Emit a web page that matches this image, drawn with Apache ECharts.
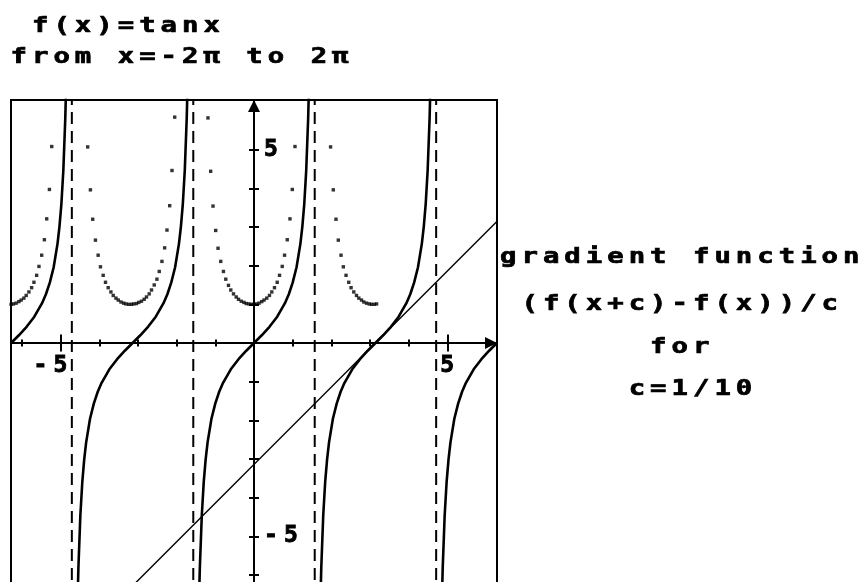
<!DOCTYPE html>
<html>
<head>
<meta charset="utf-8">
<script src="https://cdn.jsdelivr.net/npm/echarts@6/dist/echarts.min.js"></script>
<style>
  html, body { margin: 0; padding: 0; background: #ffffff; }
  #chart { width: 864px; height: 582px; }
</style>
</head>
<body>
<div id="chart"></div>
<script>
// ---- f(x) = tan x, one array per branch between asymptotes ----
const tanBranch1 = [[-6.28, 0], [-6.08, 0.20], [-5.88, 0.42], [-5.68, 0.68], [-5.48, 1.03], [-5.38, 1.26],
  [-5.28, 1.56], [-5.18, 1.96], [-5.08, 2.57], [-5.03, 3.01], [-4.98, 3.60], [-4.93, 4.46], [-4.88, 5.80], [-4.86, 6.58]];
const tanBranch2 = [[-4.56, -6.58], [-4.54, -5.80], [-4.49, -4.46], [-4.44, -3.60], [-4.39, -3.01], [-4.34, -2.57],
  [-4.24, -1.96], [-4.14, -1.56], [-4.04, -1.26], [-3.94, -1.03], [-3.74, -0.68], [-3.54, -0.42], [-3.34, -0.20],
  [-3.14, 0], [-2.94, 0.20], [-2.74, 0.42], [-2.54, 0.68], [-2.34, 1.03], [-2.24, 1.26], [-2.14, 1.56],
  [-2.04, 1.96], [-1.94, 2.57], [-1.89, 3.01], [-1.84, 3.60], [-1.79, 4.46], [-1.74, 5.80], [-1.72, 6.58]];
const tanBranch3 = [[-1.42, -6.58], [-1.40, -5.80], [-1.35, -4.46], [-1.30, -3.60], [-1.25, -3.01], [-1.20, -2.57],
  [-1.10, -1.96], [-1.00, -1.56], [-0.90, -1.26], [-0.80, -1.03], [-0.60, -0.68], [-0.40, -0.42], [-0.20, -0.20],
  [0, 0], [0.20, 0.20], [0.40, 0.42], [0.60, 0.68], [0.80, 1.03], [0.90, 1.26], [1.00, 1.56],
  [1.10, 1.96], [1.20, 2.57], [1.25, 3.01], [1.30, 3.60], [1.35, 4.46], [1.40, 5.80], [1.42, 6.58]];
const tanBranch4 = [[1.72, -6.58], [1.74, -5.80], [1.79, -4.46], [1.84, -3.60], [1.89, -3.01], [1.94, -2.57],
  [2.04, -1.96], [2.14, -1.56], [2.24, -1.26], [2.34, -1.03], [2.54, -0.68], [2.74, -0.42], [2.94, -0.20],
  [3.14, 0], [3.34, 0.20], [3.54, 0.42], [3.74, 0.68], [3.94, 1.03], [4.04, 1.26], [4.14, 1.56],
  [4.24, 1.96], [4.34, 2.57], [4.39, 3.01], [4.44, 3.60], [4.49, 4.46], [4.54, 5.80], [4.56, 6.58]];
const tanBranch5 = [[4.86, -6.58], [4.88, -5.80], [4.93, -4.46], [4.98, -3.60], [5.03, -3.01], [5.08, -2.57],
  [5.18, -1.96], [5.28, -1.56], [5.38, -1.26], [5.48, -1.03], [5.68, -0.68], [5.88, -0.42], [6.08, -0.20], [6.28, 0]];

// ---- gradient (f(x+c)-f(x))/c, c = 1/10, plotted point by point ----
const gradDots1 = [[-6.28, 1.00], [-6.22, 1.01], [-6.15, 1.03], [-6.08, 1.07], [-6.02, 1.11], [-5.95, 1.16],
  [-5.89, 1.23], [-5.82, 1.32], [-5.75, 1.43], [-5.69, 1.57], [-5.62, 1.75], [-5.56, 1.98], [-5.49, 2.27],
  [-5.42, 2.67], [-5.36, 3.21], [-5.29, 3.97], [-5.23, 5.08]];
const gradDots2 = [[-4.30, 5.07], [-4.23, 3.96], [-4.17, 3.20], [-4.10, 2.66], [-4.03, 2.27], [-3.97, 1.97],
  [-3.90, 1.75], [-3.84, 1.57], [-3.77, 1.43], [-3.70, 1.32], [-3.64, 1.23], [-3.57, 1.16], [-3.51, 1.11],
  [-3.44, 1.06], [-3.37, 1.03], [-3.31, 1.01], [-3.24, 1.00], [-3.17, 1.00], [-3.11, 1.01], [-3.04, 1.02],
  [-2.98, 1.05], [-2.91, 1.08], [-2.84, 1.13], [-2.78, 1.19], [-2.71, 1.27], [-2.65, 1.37], [-2.58, 1.50],
  [-2.51, 1.65], [-2.45, 1.85], [-2.38, 2.11], [-2.31, 2.46], [-2.25, 2.92], [-2.18, 3.55], [-2.12, 4.46], [-2.05, 5.84]];
const gradDots3 = [[-1.19, 5.82], [-1.12, 4.44], [-1.06, 3.54], [-0.99, 2.91], [-0.93, 2.45], [-0.86, 2.11],
  [-0.79, 1.85], [-0.73, 1.65], [-0.66, 1.49], [-0.60, 1.37], [-0.53, 1.27], [-0.46, 1.19], [-0.40, 1.13],
  [-0.33, 1.08], [-0.26, 1.05], [-0.20, 1.02], [-0.13, 1.01], [-0.07, 1.00], [0, 1.00], [0.07, 1.01],
  [0.13, 1.03], [0.20, 1.07], [0.26, 1.11], [0.33, 1.16], [0.40, 1.23], [0.46, 1.32], [0.53, 1.43],
  [0.60, 1.57], [0.66, 1.75], [0.73, 1.98], [0.79, 2.27], [0.86, 2.67], [0.93, 3.21], [0.99, 3.97], [1.06, 5.08]];
const gradDots4 = [[1.98, 5.07], [2.05, 3.96], [2.12, 3.20], [2.18, 2.66], [2.25, 2.27], [2.31, 1.97],
  [2.38, 1.75], [2.45, 1.57], [2.51, 1.43], [2.58, 1.32], [2.65, 1.23], [2.71, 1.16], [2.78, 1.11],
  [2.84, 1.06], [2.91, 1.03], [2.98, 1.01], [3.04, 1.00], [3.11, 1.00], [3.17, 1.01]];

// ---- straight line and vertical asymptotes ----
const straightLine = [[-3.14, -6.28], [6.28, 3.14]];
const asymptotes = [-4.71, -1.57, 1.57, 4.71];

// ---- axes ----
const X_MIN = -2 * Math.PI, X_MAX = 2 * Math.PI;
const Y_MIN = -2 * Math.PI, Y_MAX = 2 * Math.PI;
const minorTicksX = [-6, -4, -3, -2, -1, 1, 2, 3, 4, 6];
const majorTicksX = [-5, 5];
const ticksY = [-6, -5, -4, -3, -2, -1, 1, 2, 3, 4, 5, 6];
const tickLabels = [-5, 5];

// ---- text ----
const titleLines = ['f(x)=tanx', 'from x=-2π to 2π'];
const noteLines = ['gradient function', '(f(x+c)-f(x))/c', 'for', 'c=1/10'];

// Calculator-style lettering: every character sits in a wide fixed cell.
// Spacing depends on the font size in use (21px = scaled note text, 23px = axis labels).
const LETTER_SPACING_BY_SIZE = { '21px': '3.85px', '23px': '6.2px' };
function withLetterSpacing(nativeFn) {
  return function (text, x, y, maxWidth) {
    const m = /(\d+(?:\.\d+)?px)/.exec(this.font || '');
    this.letterSpacing = (m && LETTER_SPACING_BY_SIZE[m[1]]) || '0px';
    return maxWidth === undefined
      ? nativeFn.call(this, text, x, y)
      : nativeFn.call(this, text, x, y, maxWidth);
  };
}
CanvasRenderingContext2D.prototype.fillText = withLetterSpacing(CanvasRenderingContext2D.prototype.fillText);
CanvasRenderingContext2D.prototype.strokeText = withLetterSpacing(CanvasRenderingContext2D.prototype.strokeText);

const INK = '#000000';
const FONT_FAMILY = '"DejaVu Sans Mono", monospace';
const NOTE_FONT = 'bold 21px ' + FONT_FAMILY;
const NOTE_SCALE_X = 1.3;
const PITCH = 21.44;

const GRID = { left: 11, top: 100, width: 486, height: 486 };

function textLine(str, col, baseX, y) {
  return {
    type: 'text', x: baseX + col * PITCH, y: y, scaleX: NOTE_SCALE_X, scaleY: 1, silent: true,
    style: { text: str, font: NOTE_FONT, fill: INK, stroke: INK, lineWidth: 0.7,
      align: 'left', verticalAlign: 'middle' }
  };
}

const labelStyle = {
  color: INK, fontFamily: FONT_FAMILY, fontSize: 23, fontWeight: 'bold',
  textBorderColor: INK, textBorderWidth: 0.9
};

// Axis line + ticks, sitting on the zero of the other axis.
function xAxisDef(position, showLine, ticks, tickLen) {
  return {
    type: 'value', min: X_MIN, max: X_MAX, position: position,
    axisLine: {
      show: showLine, onZero: true, onZeroAxisIndex: 0,
      lineStyle: { color: INK, width: 2 },
      symbol: ['none', 'triangle'], symbolSize: [12, 12], symbolOffset: [0, -6]
    },
    axisTick: { show: true, inside: false, customValues: ticks, length: tickLen,
      lineStyle: { color: INK, width: 2 } },
    axisLabel: { show: false },
    splitLine: { show: false }
  };
}

function yAxisDef(position, showLine) {
  return {
    type: 'value', min: Y_MIN, max: Y_MAX, position: position,
    axisLine: {
      show: showLine, onZero: true, onZeroAxisIndex: 0,
      lineStyle: { color: INK, width: 2 },
      symbol: ['none', 'triangle'], symbolSize: [12, 12], symbolOffset: [0, -6]
    },
    axisTick: { show: true, inside: false, customValues: ticksY, length: 5,
      lineStyle: { color: INK, width: 2 } },
    axisLabel: { show: false },
    splitLine: { show: false }
  };
}

// Label-only axes, moved in from the grid edge onto the origin lines.
const xLabelAxis = {
  type: 'value', min: X_MIN, max: X_MAX, position: 'bottom', offset: -GRID.height / 2,
  axisLine: { show: false, onZero: false }, axisTick: { show: false }, splitLine: { show: false },
  axisLabel: Object.assign({
    show: true, customValues: tickLabels, formatter: v => String(v),
    align: 'right', padding: [0, -13, 0, 0], margin: 12
  }, labelStyle)
};
const yLabelAxis = {
  type: 'value', min: Y_MIN, max: Y_MAX, position: 'right', offset: -GRID.width / 2,
  axisLine: { show: false, onZero: false }, axisTick: { show: false }, splitLine: { show: false },
  axisLabel: Object.assign({
    show: true, customValues: tickLabels, formatter: v => String(v),
    align: 'left', margin: 10
  }, labelStyle)
};

const tanStyle = { color: INK, width: 2.6 };
const tanSeries = [tanBranch1, tanBranch2, tanBranch3, tanBranch4, tanBranch5].map(branch => ({
  type: 'line', data: branch, showSymbol: false, symbol: 'none', clip: true,
  lineStyle: tanStyle, z: 4
}));

const asymptoteSeries = asymptotes.map(a => ({
  type: 'line', data: [[a, Y_MAX], [a, Y_MIN]], showSymbol: false, symbol: 'none', clip: true,
  lineStyle: { color: INK, width: 2, type: [12, 7], dashOffset: 7 }, z: 3
}));

const option = {
  animation: false,
  backgroundColor: '#ffffff',
  grid: Object.assign({
    show: true, borderColor: INK, borderWidth: 2, backgroundColor: 'transparent',
    outerBoundsMode: 'none'
  }, GRID),
  xAxis: [
    xAxisDef('bottom', true, minorTicksX, 3.5),
    xAxisDef('top', false, minorTicksX, 3.5),
    xAxisDef('bottom', false, majorTicksX, 8.5),
    xAxisDef('top', false, majorTicksX, 8.5),
    xLabelAxis
  ],
  yAxis: [
    yAxisDef('left', true),
    yAxisDef('right', false),
    yLabelAxis
  ],
  graphic: [
    textLine(titleLines[0], 1, 10.5, 27),
    textLine(titleLines[1], 0, 10.5, 58),
    textLine(noteLines[0], 0, 500, 258),
    textLine(noteLines[1], 1, 500, 305),
    textLine(noteLines[2], 7, 500, 348),
    textLine(noteLines[3], 6, 500, 390)
  ],
  series: [
    ...asymptoteSeries,
    ...tanSeries,
    {
      type: 'scatter', data: [...gradDots1, ...gradDots2, ...gradDots3, ...gradDots4],
      symbol: 'rect', symbolSize: 3.4, itemStyle: { color: INK }, clip: true, z: 5
    },
    {
      type: 'line', data: straightLine, showSymbol: false, symbol: 'none', clip: true,
      lineStyle: { color: INK, width: 1.4 }, z: 4
    }
  ]
};

const chart = echarts.init(document.getElementById('chart'), null, { renderer: 'canvas' });
chart.setOption(option);
</script>
</body>
</html>
